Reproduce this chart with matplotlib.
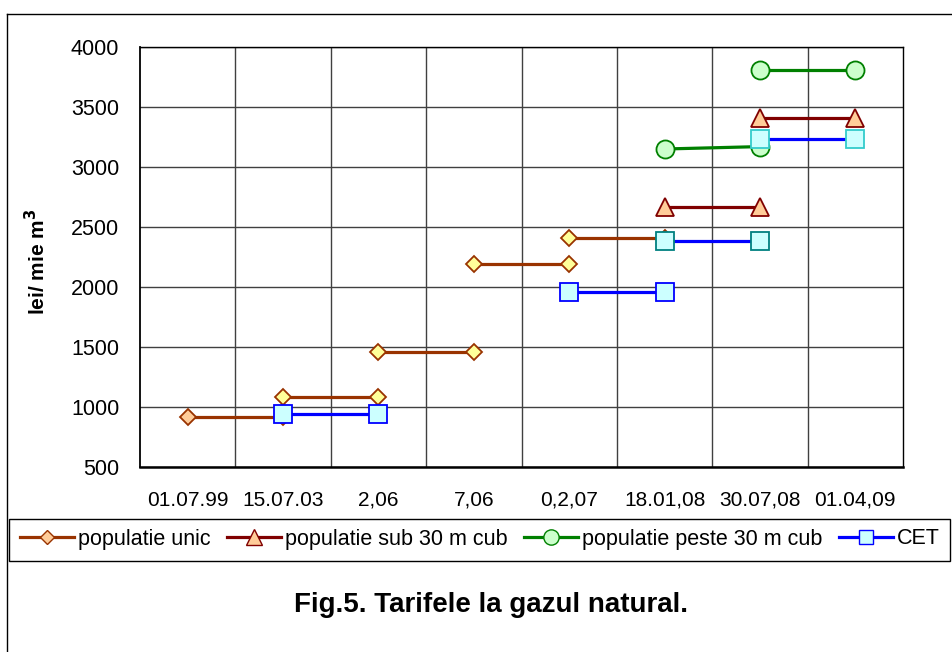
import matplotlib
matplotlib.use('Agg')
import matplotlib.pyplot as plt
from matplotlib.lines import Line2D
from matplotlib.patches import Rectangle

plt.rcParams['font.family'] = ['Liberation Sans', 'DejaVu Sans']

# Categories on the x axis
categories = ['01.07.99', '15.07.03', '2,06', '7,06', '0,2,07',
              '18.01,08', '30.07,08', '01.04,09']

# Each tariff step runs from category "start" to the next one
unic_start = [0, 1, 2, 3, 4]
unic_begin = [920, 1080, 1460, 2190, 2410]
unic_end = [920, 1080, 1460, 2190, 2410]

sub30_start = [5, 6]
sub30_begin = [2670, 3410]
sub30_end = [2670, 3410]

peste30_start = [5, 6]
peste30_begin = [3150, 3810]
peste30_end = [3170, 3810]

cet_start = [1, 4, 5, 6]
cet_begin = [940, 1960, 2380, 3230]
cet_end = [940, 1960, 2380, 3230]

labels = ['populatie unic', 'populatie sub 30 m cub',
          'populatie peste 30 m cub', 'CET']

fig = plt.figure(figsize=(9.53, 6.52), dpi=100)
ax = fig.add_axes([140 / 953, 1 - 467 / 652, 763 / 953, 420 / 652])


def draw_steps(starts, begins, ends, color, marker, size, faces, edges):
    for i, (s, b, e) in enumerate(zip(starts, begins, ends)):
        ax.plot([s, s + 1], [b, e], color=color, lw=2.3, marker=marker,
                markersize=size, markerfacecolor=faces[i],
                markeredgecolor=edges[i], markeredgewidth=1.3,
                solid_capstyle='butt')


draw_steps(unic_start, unic_begin, unic_end, '#993300', 'D', 8.6,
           ['#FFCC99'] + ['#FFFF99'] * 4, ['#993300'] * 5)
draw_steps(sub30_start, sub30_begin, sub30_end, '#800000', '^', 13,
           ['#FFCC99'] * 2, ['#800000'] * 2)
draw_steps(peste30_start, peste30_begin, peste30_end, '#008000', 'o', 13,
           ['#CCFFCC'] * 2, ['#008000'] * 2)
draw_steps(cet_start, cet_begin, cet_end, '#0000FF', 's', 12.5,
           ['#CCFFFF'] * 4, ['#0000FF', '#0000FF', '#008080', '#33CCCC'])

ax.set_xlim(-0.5, len(categories) - 0.5)
ax.set_ylim(500, 4000)
ax.set_xticks(range(len(categories)))
ax.set_xticklabels(categories)
ax.set_xticks([k - 0.5 for k in range(1, len(categories))], minor=True)
ax.set_yticks(range(500, 4001, 500))
ax.tick_params(axis='x', which='major', length=0, pad=17, labelsize=15)
ax.tick_params(axis='x', which='minor', length=0)
ax.tick_params(axis='y', length=0, pad=15, labelsize=15.5)

ax.grid(True, axis='y', which='major', color='#404040', lw=1)
ax.grid(True, axis='x', which='minor', color='#404040', lw=1)
ax.grid(False, axis='x', which='major')
ax.set_axisbelow(True)

ax.spines['bottom'].set_linewidth(1.8)
ax.spines['left'].set_linewidth(1.3)
ax.spines['top'].set_linewidth(1.0)
ax.spines['right'].set_linewidth(1.0)

fig.text(37 / 953, 1 - 262 / 652, 'lei/ mie m$^\\mathbf{3}$', rotation=90,
         ha='center', va='center', fontsize=15, fontweight='bold')

# Legend
handles = [
    Line2D([], [], color='#993300', lw=2.3, marker='D', markersize=7.5,
           markerfacecolor='#FFCC99', markeredgecolor='#993300'),
    Line2D([], [], color='#800000', lw=2.3, marker='^', markersize=11,
           markerfacecolor='#FFCC99', markeredgecolor='#800000'),
    Line2D([], [], color='#008000', lw=2.3, marker='o', markersize=11,
           markerfacecolor='#CCFFCC', markeredgecolor='#008000'),
    Line2D([], [], color='#0000FF', lw=2.3, marker='s', markersize=10,
           markerfacecolor='#CCFFFF', markeredgecolor='#0000FF'),
]
fig.legend(handles, labels, ncol=4, loc='center',
           bbox_to_anchor=(480 / 953, 1 - 539 / 652), frameon=False,
           fontsize=15.5, handlelength=2.5, handletextpad=0.2,
           columnspacing=0.75, borderaxespad=0)
fig.patches.append(Rectangle((9 / 953, 1 - 561 / 652), 941 / 953, 42 / 652,
                             transform=fig.transFigure, fill=False,
                             edgecolor='black', lw=1))

# Outer border of the chart area
fig.add_artist(Line2D([7 / 953, 7 / 953], [0, 1 - 14 / 652], color='black',
                      lw=1, transform=fig.transFigure))
fig.add_artist(Line2D([7 / 953, 1], [1 - 14 / 652, 1 - 14 / 652],
                      color='black', lw=1, transform=fig.transFigure))

fig.text(491 / 953, 1 - 605 / 652, 'Fig.5. Tarifele la gazul natural.',
         ha='center', va='center', fontsize=20, fontweight='bold')

fig.savefig('out.png', dpi=100)
